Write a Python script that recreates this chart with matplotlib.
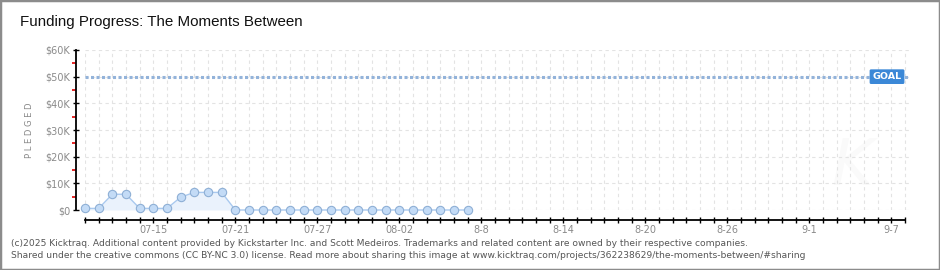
import matplotlib
matplotlib.use('Agg')
import numpy as np
from matplotlib import pyplot as plt
from matplotlib.patches import Rectangle
import matplotlib.ticker as mticker

# pledge snapshots, one per day starting 07-10
days = ['07-10', '07-11', '07-12', '07-13', '07-14', '07-15', '07-16', '07-17',
        '07-18', '07-19', '07-20', '07-21', '07-22', '07-23', '07-24', '07-25',
        '07-26', '07-27', '07-28', '07-29', '07-30', '07-31', '08-01', '08-02',
        '08-03', '08-04', '08-05', '08-06', '08-07']
pledged = [600, 600, 5900, 5900, 600, 600, 600, 4800, 6600, 6600, 6600, 0,
           0, 0, 0, 0, 0, 0, 0, 0, 0, 0, 0, 0, 0, 0, 0, 0, 0]
goal = 50000

# campaign runs 07-10 .. 09-08 (61 days on the axis)
n_axis_days = 61
tick_labels = ['07-15', '07-21', '07-27', '08-02', '8-8', '8-14', '8-20', '8-26', '9-1', '9-7']
tick_days = [5, 11, 17, 23, 29, 35, 41, 47, 53, 59]
y_ticks = [0, 10000, 20000, 30000, 40000, 50000, 60000]
y_labels = ['$0', '$10K', '$20K', '$30K', '$40K', '$50K', '$60K']

title = 'Funding Progress: The Moments Between'
footer1 = ('(c)2025 Kicktraq. Additional content provided by Kickstarter Inc. and Scott Medeiros. '
           'Trademarks and related content are owned by their respective companies.')
footer2 = ('Shared under the creative commons (CC BY-NC 3.0) license. Read more about sharing this '
           'image at www.kicktraq.com/projects/362238629/the-moments-between/#sharing')

W, H = 940, 270
fig = plt.figure(figsize=(W / 100, H / 100), dpi=100)
ax = fig.add_axes([85 / W, (H - 210) / H, 825 / W, 160 / H])

x = np.arange(len(pledged))
xmax = (n_axis_days - 1) + 5 / 13.67
ax.set_xlim(0, xmax)
ax.set_ylim(0, 60000)

# grid
ax.set_xticks(np.arange(n_axis_days))
xlabs = [''] * n_axis_days
for d, lab in zip(tick_days, tick_labels):
    xlabs[d] = lab
ax.xaxis.set_major_formatter(mticker.FixedFormatter(xlabs))
ax.set_yticks(y_ticks)
ax.set_yticklabels(y_labels)
ax.set_yticks([5000, 15000, 25000, 35000, 45000, 55000], minor=True)
ax.grid(True, which='major', color='#e3e3e3', linestyle=(0, (3, 3)), linewidth=0.8, zorder=0)
ax.set_axisbelow(True)

# faint watermark
ax.text(0.93, 0.27, 'K', transform=ax.transAxes, fontsize=46, style='italic',
        color='#fafafa', ha='center', va='center', zorder=0.5)

# pledge line
ax.fill_between(x, pledged, 0, color='#eaf2fc', zorder=2, lw=0)
ax.plot(x, pledged, color='#a9c9ef', lw=1, marker='o', ms=6,
        mfc='#c3dbf6', mec='#8eafd5', mew=0.8, clip_on=False, zorder=4)

# goal
ax.plot([0, xmax], [goal, goal], color='#93b3da', lw=2.2, dashes=(1, 0.8),
        dash_capstyle='butt', zorder=3, clip_on=False)
ax.text(59.75, goal, 'GOAL', ha='right', va='center', color='white', fontsize=6.8,
        fontweight='bold', zorder=5,
        bbox=dict(boxstyle='round,pad=0.3,rounding_size=0.15', fc='#3b88d7', ec='none'))

# axes styling
for s in ['top', 'right']:
    ax.spines[s].set_visible(False)
ax.spines['left'].set_position(('outward', 6.5))
ax.spines['left'].set_bounds(0, 60000)
ax.spines['bottom'].set_position(('outward', 7.2))
ax.spines['bottom'].set_bounds(0, n_axis_days - 1)
ax.spines['left'].set_linewidth(1.3)
ax.spines['bottom'].set_linewidth(1.3)

ax.tick_params(axis='x', which='major', direction='inout', length=5, width=1,
               color='black', labelsize=7, labelcolor='#8a8a8a', pad=1)
ax.tick_params(axis='y', which='major', direction='inout', length=4.5, width=1,
               color='black', labelsize=7, labelcolor='#8a8a8a', pad=2)
ax.tick_params(axis='y', which='minor', direction='out', length=3, width=1.2,
               color='#e00000')

# texts
fig.text(30 / W, 1 - 130 / H, 'P L E D G E D', rotation=90, ha='center', va='center',
         fontsize=6, color='#888888')
fig.text(20 / W, 1 - 22 / H, title, fontsize=10.9, family='Liberation Sans',
         ha='left', va='center', color='#111111')
fig.text(11 / W, 1 - 244 / H, footer1, fontsize=6.6, color='#555555', ha='left', va='center')
fig.text(11 / W, 1 - 256 / H, footer2, fontsize=6.6, color='#555555', ha='left', va='center')

# outer frame
fig.patches.append(Rectangle((0, 0), 1, 1, transform=fig.transFigure, fill=False,
                             ec='#8c8c8c', lw=2.5))

fig.savefig('out.png', dpi=100)
